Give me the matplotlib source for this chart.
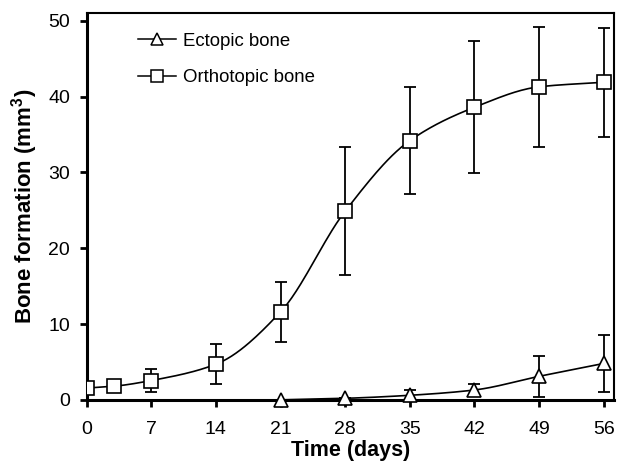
import numpy as np
import matplotlib
matplotlib.use('Agg')
import matplotlib.pyplot as plt

plt.rcParams['font.family'] = ['Liberation Sans', 'DejaVu Sans']

# data
days_ortho = [0, 3, 7, 14, 21, 28, 35, 42, 49, 56]
ortho = [1.55, 1.8, 2.55, 4.7, 11.6, 24.9, 34.2, 38.6, 41.3, 41.9]
ortho_err = [0, 0, 1.5, 2.65, 4.0, 8.4, 7.1, 8.7, 7.9, 7.2]

days_ecto = [21, 28, 35, 42, 49, 56]
ecto = [0.0, 0.2, 0.6, 1.3, 3.1, 4.8]
ecto_err = [0, 0, 0.7, 0.75, 2.7, 3.7]

xticks = [0, 7, 14, 21, 28, 35, 42, 49, 56]


def smooth(x, y, n=30):
    # monotone cubic (pchip) for the drawn curve only
    x = np.asarray(x, float)
    y = np.asarray(y, float)
    h = np.diff(x)
    d = np.diff(y) / h
    m = np.zeros_like(y)
    for k in range(1, len(x) - 1):
        if d[k - 1] * d[k] > 0:
            w1 = 2 * h[k] + h[k - 1]
            w2 = h[k] + 2 * h[k - 1]
            m[k] = (w1 + w2) / (w1 / d[k - 1] + w2 / d[k])
    m[0] = d[0]
    m[-1] = d[-1]
    xs, ys = [], []
    for k in range(len(x) - 1):
        t = np.linspace(0, 1, n)
        h00 = 2 * t**3 - 3 * t**2 + 1
        h10 = t**3 - 2 * t**2 + t
        h01 = -2 * t**3 + 3 * t**2
        h11 = t**3 - t**2
        xs.append(x[k] + t * h[k])
        ys.append(h00 * y[k] + h10 * h[k] * m[k] + h01 * y[k + 1] + h11 * h[k] * m[k + 1])
    return np.concatenate(xs), np.concatenate(ys)


fig = plt.figure(figsize=(6.21, 4.76), dpi=100)
ax = fig.add_axes([0.1395, 0.16, 0.849, 0.813])

xo, yo = smooth(days_ortho, ortho)
xe, ye = smooth(days_ecto, ecto)
ax.plot(xo, yo, color='black', lw=1.2, zorder=2)
ax.plot(xe, ye, color='black', lw=1.2, zorder=2)

ax.errorbar(days_ortho, ortho, yerr=ortho_err, fmt='none', ecolor='black',
            elinewidth=1.3, capsize=4.5, capthick=1.3, zorder=3)
ax.errorbar(days_ecto, ecto, yerr=ecto_err, fmt='none', ecolor='black',
            elinewidth=1.3, capsize=4.5, capthick=1.3, zorder=3)

ax.plot(days_ortho, ortho, ls='none', marker='s', ms=9.5, mfc='white',
        mec='black', mew=1.2, zorder=4)
ax.plot(days_ecto, ecto, ls='none', marker='^', ms=9.5, mfc='white',
        mec='black', mew=1.2, zorder=4, clip_on=False)

# legend handles
ax.plot([], [], color='black', lw=1.1, marker='^', ms=8, mfc='white',
        mec='black', mew=1.1, label='Ectopic bone')
ax.plot([], [], color='black', lw=1.1, marker='s', ms=8, mfc='white',
        mec='black', mew=1.1, label='Orthotopic bone')
ax.legend(loc='upper left', bbox_to_anchor=(0.066, 0.992), frameon=False,
          fontsize=13.4, handlelength=2.05, handletextpad=0.38, labelspacing=1.05)

ax.set_xlim(0, 57.1)
ax.set_ylim(0, 51.06)
ax.set_xticks(xticks)
ax.set_yticks([0, 10, 20, 30, 40, 50])
ax.tick_params(direction='out', length=5, width=2, labelsize=14)
ax.tick_params(axis='x', pad=10)
ax.tick_params(axis='y', pad=7)

for s in ['left', 'bottom']:
    ax.spines[s].set_linewidth(2.2)
for s in ['right', 'top']:
    ax.spines[s].set_linewidth(1.5)

ax.set_xlabel('Time (days)', fontsize=15.5, fontweight='bold', labelpad=2)
ax.set_ylabel('Bone formation (mm$^\\mathregular{3}$)', fontsize=16,
              fontweight='bold', labelpad=6)

fig.savefig('out.png', dpi=100)
